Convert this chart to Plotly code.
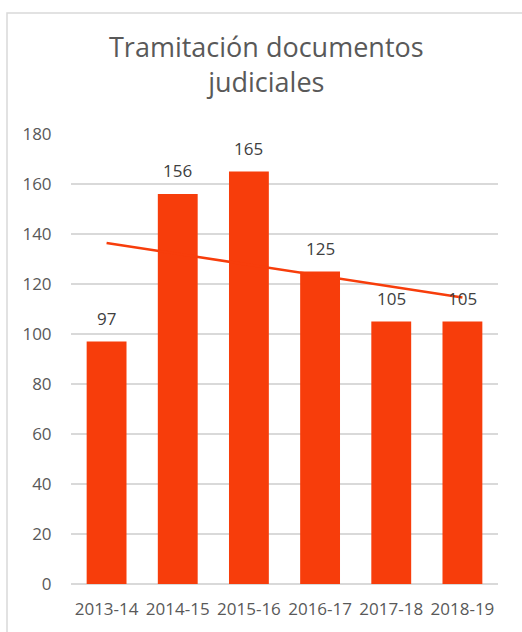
import numpy as np
import plotly.graph_objects as go

categories = ["2013-14", "2014-15", "2015-16", "2016-17", "2017-18", "2018-19"]
values = [97, 156, 165, 125, 105, 105]
y_ticks = [0, 20, 40, 60, 80, 100, 120, 140, 160, 180]
title_text = "Tramitación documentos<br>judiciales"

BAR = "#F73D0B"
TXT = "#595959"
FONT = "Open Sans"

# linear trend line computed from the data
xi = np.arange(1, len(values) + 1)
slope, intercept = np.polyfit(xi, values, 1)
trend = slope * xi + intercept

fig = go.Figure()
fig.add_trace(go.Bar(x=categories, y=values, marker=dict(color=BAR, line=dict(width=0)),
                     hoverinfo="skip"))
fig.add_trace(go.Scatter(x=categories, y=trend, mode="lines",
                         line=dict(color=BAR, width=2.5), hoverinfo="skip"))

for c, v in zip(categories, values):
    fig.add_annotation(x=c, y=v, text=str(v), showarrow=False, yanchor="bottom",
                       yshift=10, font=dict(family=FONT, size=17, color="#404040"))

fig.add_annotation(xref="paper", yref="paper", x=0.458, y=1.155, yanchor="middle",
                   text=title_text, showarrow=False,
                   font=dict(family=FONT, size=27, color=TXT))

fig.add_shape(type="rect", xref="paper", yref="paper", x0=-0.1499, x1=1.08,
              y0=-0.12, y1=1.2687, line=dict(color="#D9D9D9", width=1.5),
              fillcolor="rgba(0,0,0,0)", layer="below")

fig.update_layout(
    width=522, height=632,
    margin=dict(l=71, r=24, t=134, b=44),
    paper_bgcolor="white", plot_bgcolor="white",
    showlegend=False, bargap=0.44,
    font=dict(family=FONT, size=17, color=TXT),
)
fig.update_xaxes(showgrid=False, showline=False, ticks="outside", ticklen=10,
                 tickcolor="rgba(0,0,0,0)", tickfont=dict(size=17, color=TXT))
fig.update_yaxes(range=[0, 180], tickvals=y_ticks, showgrid=True, gridcolor="#D9D9D9",
                 gridwidth=1.5, zeroline=True, zerolinecolor="#D9D9D9", zerolinewidth=1.5,
                 ticks="outside", ticklen=15, tickcolor="rgba(0,0,0,0)",
                 tickfont=dict(size=17, color=TXT), showline=False)

fig.write_html("out.html", config={"displayModeBar": False},
               post_script="document.body.style.margin='0';document.body.style.overflow='hidden';")
